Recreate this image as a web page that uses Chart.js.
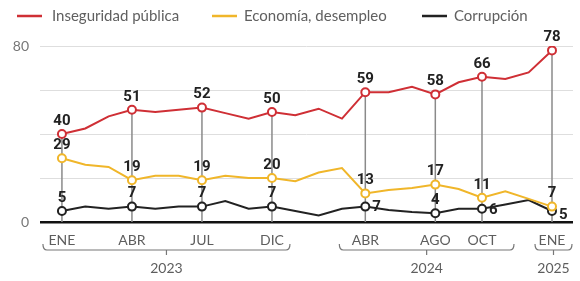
<!DOCTYPE html>
<html>
<head>
<meta charset="utf-8">
<script src="https://cdn.jsdelivr.net/npm/chart.js@4.4.1/dist/chart.umd.min.js"></script>
<style>
  html, body { margin: 0; padding: 0; background: #fff; }
  #wrap { width: 580px; height: 281px; position: relative; }
</style>
</head>
<body>
<div id="wrap"><canvas id="chart"></canvas></div>
<script>
// Survey data, Jan 2023 - Jan 2025 (22 readings)
const inseguridad = [40, 42.5, 48, 51, 50, 51, 52, 49.5, 47, 50, 48.5, 51.5, 47, 59, 59, 61.5, 58, 63.5, 66, 65, 68, 78];
const economia = [29, 26, 25, 19, 21, 21, 19, 21, 20, 20, 18.5, 22.5, 24.5, 13, 14.5, 15.5, 17, 15, 11, 14, 10.5, 7];
const corrupcion = [5, 7, 6, 7, 6, 7, 7, 9.5, 6, 7, 5, 3, 6, 7, 5.5, 4.5, 4, 6, 6, 8, 10, 5];

// labelled readings and their month tags
const markIdx = [0, 3, 6, 9, 13, 16, 18, 21];
const monthLabels = ['ENE', 'ABR', 'JUL', 'DIC', 'ABR', 'AGO', 'OCT', 'ENE'];
const years = [
  { label: '2023', from: 0, to: 9 },
  { label: '2024', from: 13, to: 18 },
  { label: '2025', from: 21, to: 21 }
];
const yTicks = [0, 20, 40, 60, 80];

const seriesNames = ['Inseguridad pública', 'Economía, desempleo', 'Corrupción'];
const colors = ['#cf2f35', '#f0b62a', '#222222'];

// how far each bracket reaches past its first/last reading (px)
const bracketPad = [[19, 18], [26, 32], [17, 20]];

function toPoints(arr) {
  return arr.map((v, i) => ({ x: i, y: v }));
}

function radii(arr) {
  return arr.map((v, i) => markIdx.includes(i) ? 4 : 0);
}

const datasets = [inseguridad, economia, corrupcion].map((arr, k) => ({
  label: seriesNames[k],
  data: toPoints(arr),
  borderColor: colors[k],
  backgroundColor: colors[k],
  borderWidth: 2,
  pointRadius: radii(arr),
  pointBackgroundColor: '#fff',
  pointBorderColor: colors[k],
  pointBorderWidth: 2,
  tension: 0
}));

// label placement per series at the marked readings: [dx, dy, align]
function labelPos(k, i) {
  if (k === 2 && i >= 13 && i !== 16) {
    return i === 21 ? [7, 4, 'left'] : [7, 1, 'left'];
  }
  return [0, -13, 'center'];
}

const extras = {
  id: 'extras',
  beforeDatasetsDraw(chart) {
    const ctx = chart.ctx;
    const x = chart.scales.x, y = chart.scales.y;
    ctx.save();
    ctx.strokeStyle = '#8a8a8a';
    ctx.lineWidth = 1.5;
    markIdx.forEach(i => {
      const px = x.getPixelForValue(i);
      ctx.beginPath();
      ctx.moveTo(px, y.getPixelForValue(inseguridad[i]));
      ctx.lineTo(px, y.getPixelForValue(0));
      ctx.stroke();
    });
    ctx.restore();
  },
  afterDraw(chart) {
    const ctx = chart.ctx;
    const x = chart.scales.x, y = chart.scales.y;
    ctx.save();

    // value labels
    ctx.font = 'bold 15px Roboto, sans-serif';
    ctx.fillStyle = '#222';
    ctx.textBaseline = 'middle';
    [inseguridad, economia, corrupcion].forEach((arr, k) => {
      markIdx.forEach(i => {
        const p = labelPos(k, i);
        ctx.textAlign = p[2];
        ctx.fillText(Math.round(arr[i]), x.getPixelForValue(i) + p[0], y.getPixelForValue(arr[i]) + p[1]);
      });
    });

    // legend
    const legX = [[17, 52], [212, 244], [422, 454]];
    ctx.font = '15px Lato, sans-serif';
    ctx.textAlign = 'left';
    ctx.lineWidth = 2.5;
    seriesNames.forEach((name, k) => {
      ctx.strokeStyle = colors[k];
      ctx.beginPath();
      ctx.moveTo(legX[k][0], 16);
      ctx.lineTo(legX[k][0] + 25, 16);
      ctx.stroke();
      ctx.fillStyle = '#606060';
      ctx.fillText(name, legX[k][1], 16);
    });

    // month labels
    ctx.font = '14px Lato, sans-serif';
    ctx.fillStyle = '#5e5e5e';
    ctx.textAlign = 'center';
    markIdx.forEach((i, n) => {
      ctx.fillText(monthLabels[n], x.getPixelForValue(i), 240);
    });

    // year brackets
    ctx.strokeStyle = '#777';
    ctx.lineWidth = 1.2;
    years.forEach((yr, n) => {
      const x1 = x.getPixelForValue(yr.from) - bracketPad[n][0];
      const x2 = x.getPixelForValue(yr.to) + bracketPad[n][1];
      const cx = (x1 + x2) / 2;
      ctx.beginPath();
      ctx.moveTo(x1, 244);
      ctx.quadraticCurveTo(x1, 250, x1 + 4, 250);
      ctx.lineTo(x2 - 4, 250);
      ctx.quadraticCurveTo(x2, 250, x2, 244);
      ctx.moveTo(cx, 250);
      ctx.lineTo(cx, 255);
      ctx.stroke();
      ctx.fillText(yr.label, cx, 268);
    });

    ctx.restore();
  }
};

new Chart(document.getElementById('chart'), {
  type: 'line',
  data: { datasets: datasets },
  plugins: [extras],
  options: {
    responsive: true,
    maintainAspectRatio: false,
    animation: false,
    layout: { padding: { top: 46, bottom: 59, left: 0, right: 7 } },
    plugins: {
      legend: { display: false },
      tooltip: { enabled: false }
    },
    scales: {
      x: {
        type: 'linear',
        min: -0.94,
        max: 21.9,
        display: false
      },
      y: {
        min: 0,
        max: 80,
        afterBuildTicks: s => { s.ticks = yTicks.map(v => ({ value: v })); },
        afterFit: s => { s.width = 40; },
        border: { display: false },
        grid: {
          drawTicks: false,
          color: c => c.tick.value === 0 ? '#111' : '#dedede',
          lineWidth: c => c.tick.value === 0 ? 2.5 : 1
        },
        ticks: {
          padding: 11,
          color: '#777',
          font: { family: 'Lato', size: 14 },
          callback: v => (v === 0 || v === 80) ? v : ''
        }
      }
    }
  }
});
</script>
</body>
</html>
